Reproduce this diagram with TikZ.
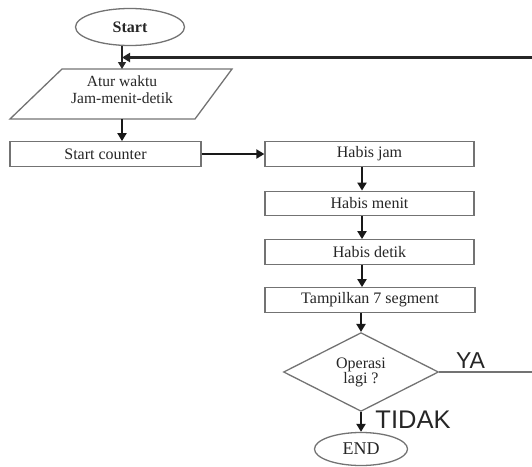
\documentclass[tikz,border=0pt]{standalone}
\usepackage{fontspec}
\setmainfont{Liberation Serif}
\newfontfamily\labelsans{Liberation Sans}
\usetikzlibrary{shapes.geometric,arrows.meta}
\begin{document}
\begin{tikzpicture}[x=1pt,y=-1pt,
  boxline/.style={draw=black!55,line width=1.3pt},
  procbox/.style={boxline,rectangle,fill=white,inner sep=0pt,minimum height=24.5pt,text=black!85,font=\fontsize{16}{16}\selectfont},
  term/.style={boxline,ellipse,inner sep=0pt,text=black!85},
  arr/.style={line width=2.2pt,draw=black!90,-{Triangle[width=9pt,length=8pt]}},
  thinarr/.style={line width=1.2pt,draw=black!85,-{Triangle[width=8pt,length=7pt]}},
  lab/.style={font=\labelsans\fontsize{23}{23}\selectfont,text=black!85,inner sep=0pt},
]
\useasboundingbox (0,0) rectangle (532,466);
\clip (0,0) rectangle (532,466);

\node[term,minimum width=109pt,minimum height=37pt,font=\bfseries\fontsize{16}{16}\selectfont] (start) at (130,27) {Start};

\draw[boxline] (62,69) -- (232,69) -- (195,119) -- (10,119) -- cycle;
\coordinate (partop) at (122,69);
\coordinate (parbot) at (122,119);
\node[align=center,font=\fontsize{15.5}{17}\selectfont,text=black!85,inner sep=0pt] (par) at (122,89.5) {Atur waktu\\Jam-menit-detik};

\node[procbox,minimum width=191pt] (sc) at (105.5,154) {Start counter};
\node[procbox,minimum width=209pt] (hj) at (369.5,154) {Habis jam};
\node[procbox,minimum width=209pt] (hm) at (369.5,203.5) {Habis menit};
\node[procbox,minimum width=209pt] (hd) at (369.5,252) {Habis detik};
\node[procbox,minimum width=210pt] (tp) at (370,300) {Tampilkan 7 segment};
\node[boxline,diamond,minimum width=155pt,minimum height=70pt,inner sep=0pt,align=center,text=black!85,font=\fontsize{16}{15}\selectfont] (dec) at (361,372) {Operasi\\lagi ?};
\node[term,minimum width=93pt,minimum height=33pt,font=\fontsize{18}{18}\selectfont] (end) at (361,449) {END};

\coordinate (col) at (362,0);
\coordinate (join) at (122,57.5);
\coordinate (far) at (545,372);

\draw[thinarr] (start.south -| partop) -- (partop);
\draw[arr] (parbot) -- (parbot |- sc.north);
\draw[arr] (sc) -- (hj);
\draw[arr] (hj.south -| col) -- (hm.north -| col);
\draw[arr] (hm.south -| col) -- (hd.north -| col);
\draw[arr] (hd.south -| col) -- (tp.north -| col);
\draw[arr] (tp.south -| dec.north) -- (dec.north);
\draw[arr] (dec.south) -- (end.north);
\draw[line width=1.3pt,black!55] (dec.east) -- (far);
\draw[line width=2.8pt,black!85,-{Triangle[width=9pt,length=8pt]}] (far) |- (join);

\node[lab] (ya) at (470.5,361) {YA};
\node[lab,font=\labelsans\fontsize{25.5}{25.5}\selectfont] (tidak) at (413,420) {TIDAK};
\end{tikzpicture}
\end{document}
